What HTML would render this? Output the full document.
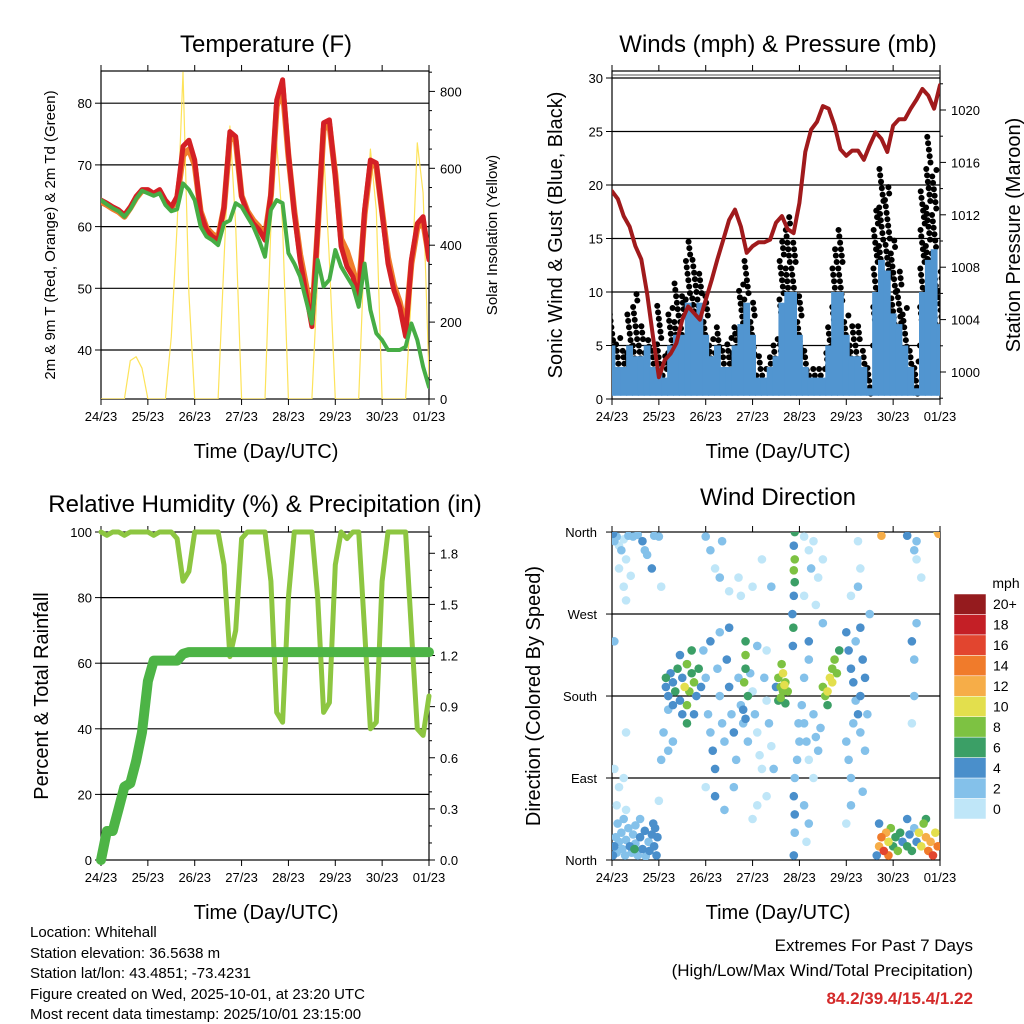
<!DOCTYPE html>
<html><head><meta charset="utf-8">
<style>
html,body{margin:0;padding:0;background:#fff;}
svg{display:block;font-family:"Liberation Sans",sans-serif;}
</style></head>
<body>
<svg id="chart" width="1024" height="1024" viewBox="0 0 1024 1024" xmlns="http://www.w3.org/2000/svg">
<rect width="1024" height="1024" fill="#fff"/>
<text x="266" y="52" font-size="24" text-anchor="middle">Temperature (F)</text>
<text x="778" y="52" font-size="24" text-anchor="middle">Winds (mph) &amp; Pressure (mb)</text>
<text x="265" y="512" font-size="24" text-anchor="middle">Relative Humidity (%) &amp; Precipitation (in)</text>
<text x="778" y="505" font-size="24" text-anchor="middle">Wind Direction</text>
<text transform="translate(55,235) rotate(-90)" font-size="15" text-anchor="middle">2m &amp; 9m T (Red, Orange) &amp; 2m Td (Green)</text>
<text transform="translate(497,235) rotate(-90)" font-size="15" text-anchor="middle">Solar Insolation (Yellow)</text>
<text transform="translate(562,235) rotate(-90)" font-size="20" text-anchor="middle">Sonic Wind &amp; Gust (Blue, Black)</text>
<text transform="translate(1020,235) rotate(-90)" font-size="20" text-anchor="middle">Station Pressure (Maroon)</text>
<text transform="translate(48,696) rotate(-90)" font-size="20" text-anchor="middle">Percent &amp; Total Rainfall</text>
<text transform="translate(540,696) rotate(-90)" font-size="20" text-anchor="middle">Direction (Colored By Speed)</text>
<text x="266" y="458" font-size="20" text-anchor="middle">Time (Day/UTC)</text>
<text x="778" y="458" font-size="20" text-anchor="middle">Time (Day/UTC)</text>
<text x="266" y="919" font-size="20" text-anchor="middle">Time (Day/UTC)</text>
<text x="778" y="919" font-size="20" text-anchor="middle">Time (Day/UTC)</text>
<g font-size="15">
<text x="30" y="937">Location: Whitehall</text>
<text x="30" y="958">Station elevation: 36.5638 m</text>
<text x="30" y="978">Station lat/lon: 43.4851; -73.4231</text>
<text x="30" y="999">Figure created on Wed, 2025-10-01, at 23:20 UTC</text>
<text x="30" y="1019">Most recent data timestamp: 2025/10/01 23:15:00</text>
</g>
<text x="973" y="951" font-size="17" text-anchor="end">Extremes For Past 7 Days</text>
<text x="973" y="976" font-size="17" text-anchor="end">(High/Low/Max Wind/Total Precipitation)</text>
<text x="973" y="1004" font-size="17" font-weight="bold" fill="#d42a2a" text-anchor="end">84.2/39.4/15.4/1.22</text>
</svg>
<script>
const dayLabels=["24/23","25/23","26/23","27/23","28/23","29/23","30/23","01/23"];
const temp2m=[64.3,63.8,63.2,62.7,61.9,63.2,64.9,66,66,65.4,66,64.3,63.2,64.9,73,74,70.8,62.2,59.5,58.4,57.8,63.2,75.4,74.6,64.9,62.2,60.5,59.5,57.8,65.4,80.5,83.8,71.9,62.2,54.6,49.2,43.8,60,76.8,77.3,68.1,56.8,53.5,51.9,48.1,62.7,70.8,70.3,62.2,54,49.7,47,42.2,54.6,60.5,61.6,54.6];
const temp9m=[64.0,63.5,62.9,62.4,61.6,63.0,64.6,65.8,65.8,65.2,65.8,64.0,63.0,64.6,71.5,72.5,70.0,62.5,59.8,58.8,58.2,63.0,74.5,74.0,65.0,62.5,61.0,60.0,58.5,65.0,79.5,82.5,71.5,62.5,55.5,50.5,45.0,59.5,75.8,76.5,68.5,58.0,56.0,53.0,49.5,62.0,70.0,69.8,62.5,55.0,50.5,47.8,43.5,54.0,59.8,60.8,55.0];
const dewpt=[64.3,63.6,63,62.5,61.6,62.8,64.5,65.8,65.4,65,65.4,63.5,62.5,62.8,67,66,64.3,60,58.4,57.8,57,60.5,61,63.8,63.2,61.6,60,57.8,55.1,62.7,64.3,63.8,55.7,54,51.9,48.1,44.3,54.6,50.3,51.4,56.2,53.5,51.9,50.3,47,54,46.5,42.7,41.6,40,40,40,40.5,44.3,41.6,37.3,34];
const solar=[0,0,0,0,0,100,110,80,0,0,0,0,162,450,850,275,0,0,0,0,0,360,710,450,0,0,0,0,0,450,666,450,0,0,0,0,0,320,650,360,0,0,0,0,0,405,650,492,0,0,0,0,0,275,666,536,58];
const windSpd=[5,3,3,5,4,4,5,3,3,2,5,6,6,9,8,9,6,4,5,3,3,5,7,9,6,2,2,3,4,9,10,10,6,3,2,2,2,5,10,10,6,4,4,3,1,10,13,12,8,7,5,3,1,10,13,14,7];
const windGust=[8,6,5,8,10,7,6,5,9,4,9,11,10,15,13,12,10,6,7,5,6,7,11,13,9,4,3,4,6,15,17,15,10,5,3,3,3,7,14,16,8,7,7,5,3,18,22,20,15,12,9,5,4,20,25,22,12];
const pressure=[1013.8,1013.2,1011.9,1011.1,1009.6,1008.6,1006,1002.7,999.6,1000.9,1001.4,1002.2,1004,1005,1004.5,1004,1005.5,1007,1008.6,1010.1,1011.6,1012.4,1011.1,1009.1,1009.6,1009.9,1009.9,1010.1,1011.4,1011.9,1010.9,1010.6,1012.9,1016.8,1018.5,1019.1,1020.3,1020.1,1018.8,1017,1016.5,1016.9,1016.9,1016.2,1017.3,1018.3,1017.8,1016.8,1018.8,1019.3,1019.3,1020.1,1020.8,1021.6,1021.1,1020.1,1021.9];
const relHum=[100,99,100,100,99,100,100,100,100,99,100,100,100,98,85,88,100,100,100,100,100,90,62,70,98,100,100,100,100,85,45,42,80,100,100,100,100,80,45,48,90,100,98,100,100,70,40,42,85,100,100,100,100,70,40,38,50];
const precip=[0,0.17,0.17,0.3,0.43,0.45,0.58,0.75,1.05,1.17,1.17,1.17,1.17,1.17,1.21,1.22,1.22,1.22,1.22,1.22,1.22,1.22,1.22,1.22,1.22,1.22,1.22,1.22,1.22,1.22,1.22,1.22,1.22,1.22,1.22,1.22,1.22,1.22,1.22,1.22,1.22,1.22,1.22,1.22,1.22,1.22,1.22,1.22,1.22,1.22,1.22,1.22,1.22,1.22,1.22,1.22,1.22];
const dirPts=[[0.02,5,4],[0.05,15,4],[0.08,25,3],[0.1,8,2],[0.15,20,2],[0.2,30,2],[0.22,12,3],[0.28,5,2],[0.3,22,2],[0.35,35,3],[0.38,15,4],[0.42,8,2],[0.45,28,2],[0.5,18,2],[0.55,5,2],[0.5,38,3],[0.6,25,4],[0.65,12,4],[0.7,32,4],[0.72,4,2],[0.78,20,2],[0.8,10,4],[0.85,28,4],[0.88,40,4],[0.9,15,4],[0.95,5,4],[0.97,25,4],[0.48,12,6],[0.12,40,2],[0.25,45,2],[0.6,45,3],[0.92,35,4],
[0.1,60,0],[0.15,80,0],[0.3,55,0],[1.0,65,0],[0.05,100,0],[0.3,140,0],[0.25,90,0],
[0.02,358,4],[0.05,350,2],[0.1,355,2],[0.15,345,0],[0.2,340,2],[0.25,352,0],[0.3,330,0],[0.35,356,2],[0.45,355,2],[0.55,357,2],[0.65,350,4],[0.7,340,2],[0.75,335,2],[0.4,312,0],[0.25,300,0],[0.15,320,0],[0.9,356,2],[1.0,355,2],[0.85,320,4],[1.05,300,0],[0.3,285,0],[0.05,240,2],
[1.15,200,6],[1.15,190,4],[1.2,180,4],[1.25,205,4],[1.3,195,4],[1.35,185,6],[1.4,210,6],[1.45,175,4],[1.5,200,4],[1.55,190,10],[1.6,170,8],[1.6,215,8],[1.65,185,8],[1.7,205,6],[1.75,195,8],[1.8,180,4],[1.85,210,6],[1.3,170,4],[1.2,165,2],[1.5,160,4],[1.6,150,6],[1.75,160,4],[1.45,225,4],[1.7,230,6],[1.1,140,2],[1.05,110,2],[1.3,130,2],[1.2,120,2],[1.6,215,4],[1.9,190,4],
[1.95,230,2],[2.0,200,2],[2.05,160,2],[2.1,140,2],[2.15,120,4],[2.2,100,4],[2.25,210,2],[2.3,180,2],[2.35,150,2],[2.4,130,2],[2.45,220,4],[2.5,190,4],[2.55,160,2],[2.6,140,4],[2.65,110,2],[2.7,200,2],[2.75,170,2],[2.8,150,2],[2.9,130,2],[2.95,205,2],[3.0,185,0],[3.05,160,2],[3.1,140,0],[3.15,115,0],[3.2,100,0],[3.25,200,2],[3.3,175,0],[3.35,150,2],[3.4,125,0],[3.45,100,2],[2.3,250,2],[2.5,255,4],[2.1,240,4],[3.1,235,2],[3.3,230,0],[2.0,80,0],[2.2,70,4],[2.4,55,2],[2.6,80,2],[3.0,45,0],[3.1,60,0],[3.3,70,0],
[2.85,240,6],[2.85,225,8],[2.85,210,6],[2.82,195,8],[2.9,180,6],[2.8,165,4],[2.85,155,4],
[3.55,200,8],[3.6,190,8],[3.65,185,8],[3.7,195,8],[3.6,178,8],[3.7,172,6],[3.65,205,10],[3.75,185,8],[3.55,175,6],[3.62,215,8],[3.68,192,10],[3.5,190,4],
[3.9,360,6],[3.88,345,4],[3.9,330,8],[3.88,318,8],[3.9,305,6],[3.88,290,4],[3.85,270,4],[3.87,255,6],[3.86,235,4],[3.9,90,2],[3.88,70,4],[3.9,50,4],[3.9,30,2],[3.88,5,4],[3.95,110,2],[4.0,130,2],[3.98,150,2],
[2.0,355,2],[2.1,340,2],[2.2,320,0],[2.3,310,2],[2.35,350,2],[2.5,295,0],[2.7,310,0],[2.75,290,0],[3.0,300,0],[3.2,330,0],[3.4,300,2],[4.1,355,0],[4.2,340,0],[4.3,350,0],[4.25,320,2],[4.4,310,0],[4.1,290,0],[4.5,330,0],[4.35,280,0],[4.5,260,2],[4.2,240,4],
[4.5,190,8],[4.55,180,8],[4.6,170,6],[4.65,200,10],[4.7,210,8],[4.75,220,8],[4.8,205,8],[4.85,230,6],[4.7,195,10],[4.6,185,10],
[4.05,170,2],[4.1,150,2],[4.15,130,2],[4.2,110,0],[4.3,160,2],[4.35,135,2],[4.4,120,2],[4.45,145,2],[4.1,200,2],[4.2,220,2],[4.3,90,0],[4.1,60,2],[4.2,40,2],[4.15,20,0],
[5.0,250,4],[5.05,230,4],[5.1,210,4],[5.15,195,4],[5.2,175,2],[5.25,160,4],[5.3,140,2],[5.35,220,4],[5.0,130,2],[5.05,110,2],[5.1,90,2],[5.15,150,2],[5.3,180,4],[5.4,200,4],[5.45,160,2],[5.4,120,2],[5.5,270,2],[5.3,255,4],[5.2,240,2],[5.1,290,0],[5.1,60,2],[5.0,40,0],[5.3,320,0],[5.25,350,0],[5.25,300,2],[5.35,75,2],
[5.7,15,12],[5.75,25,14],[5.8,10,16],[5.85,30,12],[5.9,20,10],[5.9,5,14],[5.95,35,8],[6.0,15,6],[6.05,25,6],[6.1,10,8],[6.15,30,6],[6.2,20,4],[6.3,15,6],[6.35,28,4],[6.4,10,6],[6.45,35,2],[6.5,20,4],[6.55,30,10],[6.6,15,10],[6.65,40,8],[6.7,25,12],[6.75,10,14],[6.8,20,12],[6.85,5,16],[6.9,30,10],[6.95,15,14],[6.7,45,6],[5.7,40,4],[6.3,45,4],[5.65,5,4],
[5.75,356,12],[6.3,356,4],[6.45,340,2],[6.5,330,0],[6.5,350,2],[6.6,310,0],[6.95,360,10],[6.97,358,12],[6.45,220,2],[6.45,180,2],[6.4,240,4],[6.5,260,2],[6.4,150,0],[7.0,360,6]];
const speedBins=["0","2","4","6","8","10","12","14","16","18","20+"];
const speedColors=["#bfe6f8","#84c1ea","#4a8fcb","#3b9f66","#7dc242","#e3df4d","#f6ad48","#f07b2b","#e2452f","#c41f26","#951b1e"];

const NS="http://www.w3.org/2000/svg";
const svg=document.getElementById('chart');
function mk(tag,attrs,parent){const e=document.createElementNS(NS,tag);for(const k in attrs)e.setAttribute(k,attrs[k]);(parent||svg).appendChild(e);return e;}
const STEP=1/8;
function xs(x0){return t=>x0+t*328/7;}
const xT=xs(101), xW=xs(612);
const yT=v=>350-(v-40)*6.17, yS=s=>399-s*0.3845;
const yW=v=>399-v*10.7, yP=p=>372-(p-1000)*13.1;
const yR=v=>860-v*3.28, yPr=v=>860-v*170.4;
const yD=d=>860-d*0.911;

function grid(x0,ys,g){ys.forEach(y=>{const l=mk('line',{x1:x0,x2:x0+328,y1:y,y2:y,stroke:'#000','stroke-width':1.2},g);
  
  });}
function frame(x0,y0,name){
  const g=mk('g',{});
  
  
  mk('rect',{x:x0,y:y0,width:328,height:328,fill:'none',stroke:'#000','stroke-width':1.2},g);
  dayLabels.forEach((lab,i)=>{const x=x0+i*328/7;
    mk('line',{x1:x,x2:x,y1:y0+328,y2:y0+334,stroke:'#000'},g);
    mk('line',{x1:x,x2:x,y1:y0,y2:y0-6,stroke:'#000'},g);
    const t=mk('text',{x:x,y:y0+350,'font-size':13,'text-anchor':'middle'},g);t.textContent=lab;
    
    });
  return g;
}
function yTicks(g,x0,vals,yf,fmt,side){vals.forEach(v=>{const y=yf(v);
  if(side==='left'){mk('line',{x1:x0-6,x2:x0,y1:y,y2:y,stroke:'#000'},g);
    const t=mk('text',{x:x0-9,y:y+5,'font-size':13,'text-anchor':'end'},g);t.textContent=fmt(v);
    
    }
  else{mk('line',{x1:x0,x2:x0+6,y1:y,y2:y,stroke:'#000'},g);
    const t=mk('text',{x:x0+11,y:y+5,'font-size':13,'text-anchor':'start'},g);t.textContent=fmt(v);
    
    }});}
function minor(g,x0,vals,yf){vals.forEach(v=>{const y=yf(v);mk('line',{x1:x0,x2:x0+3,y1:y,y2:y,stroke:'#000'},g);});}
function path(parent,arr,xf,yf,attrs,name){const d=arr.map((v,i)=>(i?'L':'M')+xf(i*STEP).toFixed(1)+','+yf(v).toFixed(1)).join('');
  const p=mk('path',Object.assign({d:d,fill:'none','stroke-linejoin':'round','stroke-linecap':'round'},attrs),parent);
  
  
  return p;}

const defs=mk('defs',{});
[['c1',101,71],['c2',612,71],['c3',101,532],['c4',612,532]].forEach(([id,x,y])=>{const c=mk('clipPath',{id:id},defs);mk('rect',{x:x,y:y,width:328,height:328},c);});

// Temperature
{const g=frame(101,71,'temperature');
 grid(101,[40,50,60,70,80].map(yT),g);
 yTicks(g,101,[40,50,60,70,80],yT,v=>v,'left');
 yTicks(g,429,[0,200,400,600,800],yS,v=>v,'right');
 minor(g,429,[50,100,150,250,300,350,450,500,550,650,700,750,850],yS);
 const c=mk('g',{'clip-path':'url(#c1)'});
 path(c,solar,xT,yS,{stroke:'#fde35a','stroke-width':1.2},'solar-line');
 path(c,temp9m,xT,yT,{stroke:'#f07d2c','stroke-width':6},'temp-9m-line');
 path(c,temp2m,xT,yT,{stroke:'#d42025','stroke-width':5},'temp-2m-line');
 path(c,dewpt,xT,yT,{stroke:'#46ad45','stroke-width':4},'dewpoint-line');
}
// Winds
{const g=frame(612,71,'winds');
 grid(612,[5,10,15,20,25,30].map(yW),g);
 mk('line',{x1:612,x2:940,y1:75,y2:75,stroke:'#555','stroke-width':1},g);
 yTicks(g,612,[0,5,10,15,20,25,30],yW,v=>v,'left');
 yTicks(g,940,[1000,1004,1008,1012,1016,1020],yP,v=>v,'right');
 minor(g,940,[998,1002,1006,1010,1014,1018,1022],yP);
 const c=mk('g',{'clip-path':'url(#c2)'});
 const bw=328/56;
 windGust.forEach((v,i)=>{const x=xW(i*STEP);
   for(let s=windSpd[i]*0.5;s<=v;s+=0.6){
     const dot=mk('circle',{cx:x+((s*7)%5-2.5),cy:yW(s),r:3,fill:'#000'},c);
     
     
   }});
 windSpd.forEach((v,i)=>{const x=xW(i*STEP);
   const r=mk('rect',{x:x-bw/2-0.5,y:yW(v),width:bw+1,height:Math.max(0,yW(0.3)-yW(v)),fill:'#5195d0'},c);
   
   });
 path(c,pressure,xW,yP,{stroke:'#a01a1c','stroke-width':4},'pressure-line');
}
// RH
{const g=frame(101,532,'humidity');
 grid(101,[20,40,60,80].map(yR),g);
 yTicks(g,101,[0,20,40,60,80,100],yR,v=>v,'left');
 yTicks(g,429,[0,0.3,0.6,0.9,1.2,1.5,1.8],yPr,v=>v.toFixed(1),'right');
 minor(g,429,[0.1,0.2,0.4,0.5,0.7,0.8,1.0,1.1,1.3,1.4,1.6,1.7,1.9],yPr);
 path(svg,relHum,xT,yR,{stroke:'#8dc641','stroke-width':5},'rh-line');
 path(svg,precip,xT,yPr,{stroke:'#4db446','stroke-width':10},'precip-line');
}
// Wind direction
{const g=frame(612,532,'wind-direction');
 grid(612,[90,180,270].map(yD),g);
 const dl=['North','East','South','West','North'];
 [0,90,180,270,360].forEach((d,i)=>{const y=yD(d);mk('line',{x1:606,x2:612,y1:y,y2:y,stroke:'#000'},g);
   const t=mk('text',{x:597,y:y+5,'font-size':13,'text-anchor':'end'},g);t.textContent=dl[i];
   
   });
 const c=mk('g',{'clip-path':'url(#c4)'});
 const order=dirPts.map((p,i)=>i).sort((a,b)=>dirPts[a][2]-dirPts[b][2]);
 order.forEach(i=>{const p=dirPts[i];const ci=Math.min(10,Math.floor(p[2]/2));
   const dot=mk('circle',{cx:xW(p[0]),cy:yD(p[1]),r:4.3,fill:speedColors[ci]},c);
   
   });
 const lg=mk('g',{});
 
 
 const mt=mk('text',{x:1006,y:588,'font-size':14,'text-anchor':'middle'},lg);mt.textContent='mph';
 const bh=225/11;
 speedBins.forEach((lab,k)=>{const idx=10-k;const y=594+k*bh;
   const r=mk('rect',{x:954,y:y,width:32,height:bh,fill:speedColors[idx],stroke:'#fff','stroke-width':0.5},lg);
   
   
   const t=mk('text',{x:993,y:y+bh/2+5,'font-size':14},lg);t.textContent=speedBins[idx];
   
   });
}
</script>
</body></html>
